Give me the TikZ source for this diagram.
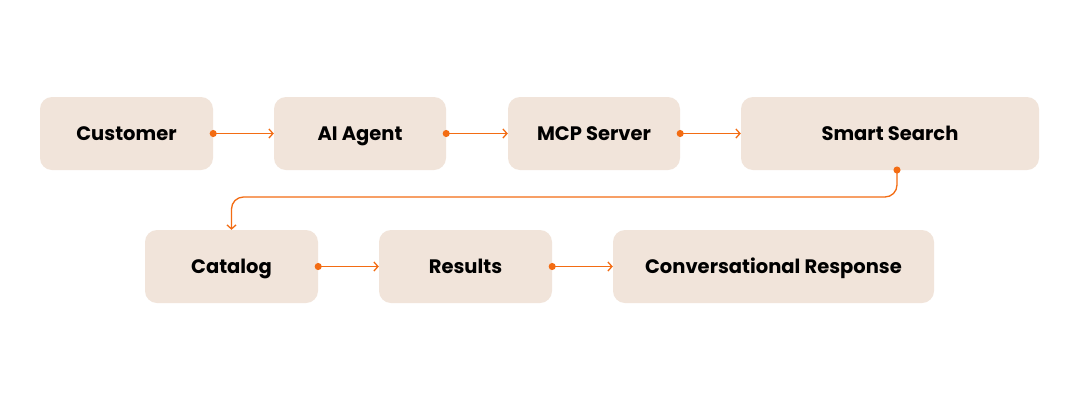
\documentclass[tikz,border=0pt]{standalone}
\usepackage{fontspec}
\setmainfont{Poppins}
\usepackage{tikz}
\usetikzlibrary{arrows.meta}
\definecolor{boxfill}{HTML}{F1E4DA}
\definecolor{flowline}{HTML}{F36C13}
\tikzset{
  box/.style={fill=boxfill, rounded corners=12pt, minimum height=73pt,
    inner sep=0pt, text height=13.5pt, text depth=0pt,
    font=\fontsize{19.5}{22}\selectfont\bfseries},
  flow/.style={draw=flowline, line width=1.3pt, shorten <=-3.5pt,
    {Circle[length=7pt]}-{Straight Barb[length=4pt,width=9pt]}}
}
\begin{document}
\begin{tikzpicture}[x=1pt,y=-1pt]
\useasboundingbox[fill=white] (0,0) rectangle (1080,400);
% first row
\node[box, minimum width=173pt] (cust) at (126.5,133.5) {Customer};
\node[box, minimum width=172pt] (agent) at (360,133.5) {AI Agent};
\node[box, minimum width=172pt] (mcp) at (594,133.5) {MCP Server};
\node[box, minimum width=298pt] (search) at (890,133.5) {Smart Search};
% second row
\node[box, minimum width=173pt] (catalog) at (231.5,266.5) {Catalog};
\node[box, minimum width=173pt] (results) at (465.5,266.5) {Results};
\node[box, minimum width=321pt] (resp) at (773.5,266.5) {Conversational Response};
\coordinate (drop) at (897,170);
\draw[flow] (cust) -- (agent);
\draw[flow] (agent) -- (mcp);
\draw[flow] (mcp) -- (search);
\draw[flow, rounded corners=12pt] (drop) -- ++(0,27) -| (catalog);
\draw[flow] (catalog) -- (results);
\draw[flow] (results) -- (resp);
\end{tikzpicture}
\end{document}
